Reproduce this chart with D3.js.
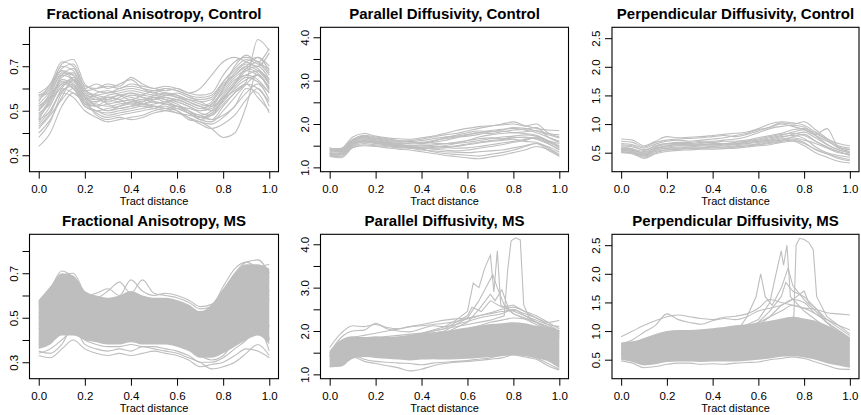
<!DOCTYPE html>
<html>
<head>
<meta charset="utf-8">
<script src="https://d3js.org/d3.v7.min.js"></script>
<style>
  body { margin: 0; background: #fff; }
  svg text { font-family: "Liberation Sans", Arial, Helvetica, sans-serif; fill: #000; }
</style>
</head>
<body>
<div id="chart"></div>
<script>
const width = 861, height = 415;

// sampling positions along the tract
const tGrid = [0, 0.05, 0.1, 0.15, 0.2, 0.25, 0.3, 0.35, 0.4, 0.45, 0.5, 0.55, 0.6, 0.65, 0.7, 0.75, 0.8, 0.85, 0.9, 0.95, 1];
const xTicks = [0, 0.2, 0.4, 0.6, 0.8, 1];

// ---- Fractional anisotropy, control subjects
const faControl = [
  [.50, .58, .66, .64, .55, .54, .56, .55, .57, .56, .55, .56, .54, .52, .50, .52, .60, .66, .70, .68, .62],
  [.55, .60, .70, .68, .58, .57, .58, .59, .60, .59, .58, .57, .58, .56, .55, .56, .63, .68, .72, .74, .70],
  [.45, .52, .62, .60, .52, .50, .51, .52, .53, .52, .53, .54, .52, .50, .47, .48, .55, .62, .66, .64, .58],
  [.58, .62, .72, .70, .61, .60, .61, .60, .62, .61, .60, .59, .60, .58, .57, .58, .66, .72, .74, .72, .66],
  [.38, .45, .58, .62, .54, .53, .52, .53, .54, .55, .54, .53, .51, .49, .46, .45, .50, .56, .62, .66, .60],
  [.34, .40, .52, .58, .53, .50, .49, .50, .51, .52, .51, .50, .49, .47, .45, .44, .47, .52, .58, .62, .55],
  [.48, .55, .64, .62, .53, .52, .55, .54, .55, .54, .56, .55, .53, .50, .48, .50, .56, .62, .68, .70, .64],
  [.52, .57, .67, .66, .57, .56, .53, .51, .52, .53, .55, .58, .57, .54, .52, .50, .54, .60, .64, .66, .60],
  [.46, .50, .60, .65, .56, .48, .46, .47, .46, .47, .49, .50, .51, .49, .48, .46, .52, .58, .62, .60, .54],
  [.56, .60, .68, .66, .60, .62, .60, .62, .64, .60, .58, .60, .59, .57, .54, .55, .62, .66, .70, .74, .68],
  [.42, .48, .55, .60, .52, .50, .48, .49, .50, .51, .52, .52, .50, .47, .44, .42, .44, .48, .55, .60, .52],
  [.50, .56, .65, .67, .58, .55, .54, .56, .58, .57, .56, .54, .55, .53, .51, .53, .58, .64, .66, .68, .64],
  [.53, .59, .69, .71, .60, .56, .55, .57, .56, .55, .57, .58, .56, .55, .54, .52, .60, .70, .75, .72, .78],
  [.44, .50, .58, .56, .50, .47, .45, .46, .47, .48, .50, .51, .50, .46, .45, .42, .38, .40, .52, .68, .62],
  [.57, .58, .62, .64, .59, .60, .62, .61, .65, .62, .60, .61, .60, .58, .60, .66, .72, .74, .72, .70, .76],
  [.47, .54, .63, .61, .55, .54, .56, .55, .53, .54, .56, .55, .54, .52, .49, .48, .53, .58, .63, .82, .77],
  [.51, .55, .60, .58, .54, .52, .53, .54, .55, .53, .54, .53, .52, .50, .47, .49, .55, .59, .62, .56, .50],
  [.40, .46, .56, .64, .56, .52, .50, .51, .52, .53, .52, .51, .49, .48, .47, .46, .48, .52, .60, .58, .49],
  [.54, .62, .68, .64, .56, .55, .57, .58, .59, .58, .57, .56, .55, .53, .51, .53, .59, .65, .68, .66, .61],
  [.49, .53, .61, .63, .57, .52, .50, .52, .54, .53, .52, .51, .52, .51, .50, .51, .57, .63, .69, .72, .67],
  [.46, .55, .66, .69, .59, .57, .56, .57, .58, .56, .55, .57, .56, .54, .52, .54, .61, .67, .71, .69, .63],
  [.52, .56, .63, .60, .55, .58, .59, .57, .55, .57, .59, .58, .57, .55, .53, .52, .56, .61, .65, .63, .58],
  [.43, .49, .59, .61, .54, .49, .47, .48, .49, .50, .51, .53, .52, .49, .46, .48, .55, .62, .69, .67, .59],
  [.57, .61, .71, .73, .62, .59, .58, .60, .61, .60, .59, .60, .59, .57, .56, .57, .63, .69, .73, .71, .69]
];

// ---- Fractional anisotropy, MS subjects (dense core + visible edge curves)
const faMsHigh = [.58, .64, .70, .69, .62, .60, .59, .60, .62, .60, .59, .59, .58, .56, .53, .56, .63, .70, .74, .74, .72];
const faMsLow  = [.36, .38, .42, .42, .40, .39, .38, .38, .39, .38, .38, .38, .37, .35, .32, .32, .34, .37, .40, .42, .38];
const faMs = [
  [.33, .32, .36, .40, .36, .34, .33, .34, .33, .34, .35, .34, .33, .31, .28, .29, .30, .33, .36, .35, .32],
  [.35, .34, .38, .46, .38, .36, .35, .36, .35, .37, .36, .35, .34, .32, .30, .27, .28, .30, .34, .38, .33],
  [.55, .60, .66, .64, .60, .61, .63, .60, .67, .62, .60, .61, .60, .58, .55, .56, .62, .70, .75, .76, .70],
  [.57, .63, .71, .68, .60, .59, .62, .66, .61, .67, .61, .60, .59, .57, .54, .55, .64, .72, .75, .73, .74],
  [.40, .44, .50, .55, .45, .40, .39, .40, .41, .40, .41, .42, .40, .37, .33, .31, .33, .40, .48, .55, .46],
  [.50, .56, .63, .60, .52, .50, .49, .50, .52, .51, .50, .49, .50, .48, .45, .44, .48, .57, .64, .66, .60],
  [.45, .50, .58, .62, .55, .52, .51, .53, .54, .53, .52, .51, .50, .47, .42, .40, .44, .52, .60, .64, .58],
  [.38, .42, .47, .50, .44, .42, .41, .42, .43, .42, .43, .42, .41, .38, .35, .35, .38, .45, .52, .58, .40],
  [.52, .58, .68, .66, .58, .56, .55, .57, .58, .57, .56, .56, .55, .53, .50, .52, .58, .66, .70, .70, .66],
  [.34, .36, .40, .44, .40, .38, .37, .37, .38, .37, .37, .36, .35, .33, .30, .30, .32, .36, .40, .46, .35],
  [.56, .62, .69, .70, .61, .58, .57, .58, .60, .59, .58, .58, .57, .55, .52, .54, .62, .68, .72, .72, .68],
  [.47, .54, .61, .58, .50, .48, .47, .48, .50, .49, .48, .47, .48, .46, .43, .43, .47, .55, .62, .68, .62]
];

// ---- Parallel diffusivity, control subjects
const pdControl = [
  [1.30, 1.32, 1.55, 1.62, 1.58, 1.55, 1.50, 1.48, 1.46, 1.44, 1.45, 1.48, 1.52, 1.56, 1.60, 1.62, 1.65, 1.60, 1.58, 1.45, 1.30],
  [1.40, 1.42, 1.65, 1.72, 1.68, 1.64, 1.60, 1.58, 1.56, 1.58, 1.62, 1.68, 1.75, 1.80, 1.85, 1.88, 1.90, 1.86, 1.80, 1.70, 1.60],
  [1.25, 1.22, 1.45, 1.52, 1.50, 1.48, 1.45, 1.44, 1.40, 1.38, 1.36, 1.35, 1.34, 1.36, 1.38, 1.40, 1.45, 1.50, 1.55, 1.40, 1.25],
  [1.35, 1.38, 1.60, 1.68, 1.62, 1.58, 1.55, 1.54, 1.55, 1.60, 1.68, 1.74, 1.80, 1.84, 1.82, 1.86, 1.92, 1.90, 1.84, 1.75, 1.68],
  [1.45, 1.40, 1.62, 1.70, 1.66, 1.62, 1.60, 1.62, 1.65, 1.70, 1.75, 1.78, 1.84, 1.90, 1.95, 2.00, 2.05, 1.96, 1.90, 1.86, 1.85],
  [1.28, 1.30, 1.50, 1.58, 1.55, 1.52, 1.50, 1.48, 1.45, 1.42, 1.40, 1.38, 1.40, 1.44, 1.48, 1.52, 1.58, 1.62, 1.70, 1.55, 1.40],
  [1.32, 1.35, 1.56, 1.64, 1.60, 1.56, 1.54, 1.56, 1.58, 1.56, 1.55, 1.56, 1.58, 1.62, 1.66, 1.70, 1.72, 1.75, 1.72, 1.62, 1.50],
  [1.38, 1.40, 1.58, 1.60, 1.56, 1.52, 1.48, 1.45, 1.42, 1.36, 1.32, 1.30, 1.28, 1.26, 1.30, 1.34, 1.40, 1.48, 1.55, 1.48, 1.35],
  [1.30, 1.28, 1.48, 1.55, 1.52, 1.50, 1.47, 1.45, 1.44, 1.46, 1.50, 1.55, 1.62, 1.70, 1.75, 1.78, 1.80, 1.78, 1.74, 1.62, 1.55],
  [1.42, 1.44, 1.70, 1.78, 1.72, 1.68, 1.66, 1.65, 1.68, 1.72, 1.78, 1.85, 1.90, 1.94, 1.96, 1.98, 2.00, 1.95, 2.00, 1.80, 1.70],
  [1.26, 1.25, 1.46, 1.50, 1.48, 1.45, 1.42, 1.40, 1.36, 1.32, 1.28, 1.25, 1.22, 1.20, 1.24, 1.28, 1.34, 1.40, 1.48, 1.42, 1.28],
  [1.36, 1.36, 1.58, 1.66, 1.60, 1.57, 1.53, 1.50, 1.50, 1.52, 1.54, 1.58, 1.62, 1.66, 1.68, 1.66, 1.70, 1.68, 1.66, 1.58, 1.48],
  [1.33, 1.30, 1.52, 1.60, 1.56, 1.53, 1.48, 1.46, 1.47, 1.48, 1.46, 1.44, 1.45, 1.48, 1.52, 1.56, 1.60, 1.64, 1.68, 1.60, 1.45],
  [1.40, 1.38, 1.62, 1.70, 1.64, 1.60, 1.58, 1.60, 1.62, 1.66, 1.70, 1.72, 1.76, 1.80, 1.78, 1.82, 1.86, 1.88, 1.92, 1.70, 1.58],
  [1.29, 1.32, 1.54, 1.60, 1.57, 1.54, 1.52, 1.50, 1.52, 1.50, 1.48, 1.50, 1.54, 1.58, 1.62, 1.64, 1.68, 1.70, 1.65, 1.55, 1.42],
  [1.44, 1.42, 1.64, 1.74, 1.70, 1.66, 1.62, 1.60, 1.58, 1.62, 1.66, 1.70, 1.72, 1.76, 1.82, 1.84, 1.80, 1.82, 1.85, 1.78, 1.75]
];

// ---- Parallel diffusivity, MS subjects
const pdMsHigh = [1.55, 1.80, 1.88, 1.86, 1.88, 1.86, 1.88, 1.90, 1.94, 1.97, 2.00, 2.04, 2.08, 2.12, 2.16, 2.18, 2.20, 2.18, 2.12, 2.08, 2.02];
const pdMsLow  = [1.16, 1.18, 1.36, 1.40, 1.38, 1.36, 1.34, 1.32, 1.34, 1.35, 1.34, 1.35, 1.36, 1.38, 1.40, 1.42, 1.44, 1.42, 1.38, 1.30, 1.14];
const pdMs = [
  [1.62, 1.95, 2.12, 2.10, 2.15, 2.08, 2.05, 2.10, 2.15, 2.20, 2.25, 2.28, 2.30, 2.35, 2.40, 2.45, 2.48, 2.40, 2.30, 2.20, 2.25],
  [1.50, 1.85, 2.00, 2.02, 2.18, 2.05, 2.00, 1.98, 2.05, 2.12, 2.10, 2.15, 2.22, 2.30, 2.35, 2.40, 2.50, 2.35, 2.25, 2.15, 2.10],
  [1.18, 1.20, 1.40, 1.30, 1.25, 1.20, 1.15, 1.08, 1.12, 1.20, 1.25, 1.28, 1.30, 1.32, 1.35, 1.38, 1.45, 1.40, 1.35, 1.20, 1.10],
  [1.20, 1.22, 1.45, 1.35, 1.30, 1.28, 1.26, 1.25, 1.22, 1.26, 1.28, 1.30, 1.32, 1.35, 1.38, 1.45, 1.50, 1.45, 1.38, 1.25, 1.12],
  [1.40, 1.70, 1.80, 1.78, 1.82, 1.80, 1.78, 1.82, 1.86, 1.90, 1.95, 2.00, 2.05, 2.12, 2.20, 2.25, 2.30, 2.28, 2.20, 2.10, 2.00],
  [1.30, 1.45, 1.55, 1.52, 1.50, 1.48, 1.46, 1.44, 1.42, 1.45, 1.48, 1.46, 1.45, 1.50, 1.55, 1.60, 1.62, 1.58, 1.50, 1.40, 1.30],
  [1.45, 1.75, 1.85, 1.90, 1.95, 2.00, 2.05, 2.10, 2.12, 2.15, 2.18, 2.22, 2.28, 2.35, 2.42, 2.50, 2.55, 2.45, 2.35, 2.20, 2.05]
];
// MS subjects with sharp peaks, as [tract distance, value]
const pdMsPeaks = [
  [[0, 1.50], [0.1, 1.80], [0.2, 1.85], [0.3, 1.90], [0.4, 1.95], [0.5, 2.05], [0.6, 2.15], [0.7, 2.25], [0.76, 2.35], [0.775, 3.40], [0.79, 4.08], [0.81, 4.15], [0.83, 4.10], [0.845, 2.60], [0.87, 2.30], [0.9, 2.20], [1, 2.00]],
  [[0, 1.45], [0.1, 1.75], [0.2, 1.80], [0.3, 1.85], [0.4, 1.95], [0.5, 2.10], [0.55, 2.25], [0.6, 2.45], [0.625, 3.10], [0.65, 3.00], [0.675, 3.45], [0.7, 3.75], [0.715, 2.90], [0.73, 3.85], [0.745, 2.60], [0.8, 2.40], [0.9, 2.20], [1, 1.95]],
  [[0, 1.40], [0.1, 1.70], [0.3, 1.80], [0.5, 2.00], [0.6, 2.30], [0.65, 2.70], [0.68, 3.00], [0.71, 3.30], [0.73, 3.00], [0.76, 2.60], [0.8, 2.40], [0.9, 2.15], [1, 1.90]],
  [[0, 1.35], [0.1, 1.65], [0.3, 1.75], [0.5, 1.95], [0.6, 2.20], [0.65, 2.50], [0.7, 2.85], [0.72, 2.70], [0.75, 2.95], [0.78, 2.50], [0.85, 2.35], [0.9, 2.20], [1, 1.85]],
  [[0, 1.42], [0.1, 1.72], [0.3, 1.82], [0.5, 2.05], [0.55, 2.20], [0.6, 2.35], [0.62, 2.55], [0.66, 2.45], [0.7, 2.70], [0.75, 2.55], [0.8, 2.60], [0.85, 2.45], [0.9, 2.30], [1, 2.00]]
];

// ---- Perpendicular diffusivity, control subjects
const rdControl = [
  [.55, .52, .45, .55, .58, .60, .60, .62, .62, .63, .64, .66, .70, .74, .78, .80, .75, .60, .50, .45, .42],
  [.62, .60, .55, .62, .66, .68, .68, .70, .70, .72, .74, .78, .85, .92, .96, .98, .95, .80, .65, .55, .50],
  [.50, .48, .40, .48, .52, .54, .55, .56, .56, .57, .58, .60, .62, .64, .68, .70, .62, .50, .42, .35, .32],
  [.70, .68, .60, .68, .72, .74, .75, .76, .78, .80, .78, .82, .88, .95, 1.02, 1.00, 1.04, .90, .75, .62, .58],
  [.58, .55, .50, .60, .64, .64, .65, .66, .68, .66, .68, .70, .72, .76, .80, .86, .90, .82, .92, .60, .55],
  [.52, .50, .42, .50, .55, .56, .57, .58, .60, .58, .60, .62, .66, .70, .72, .74, .68, .55, .48, .40, .36],
  [.66, .64, .58, .65, .70, .72, .70, .72, .74, .76, .80, .84, .90, .94, 1.00, .96, .90, .80, .70, .60, .55],
  [.60, .57, .48, .56, .62, .64, .63, .64, .65, .64, .65, .66, .68, .70, .74, .76, .72, .66, .58, .50, .48],
  [.54, .52, .46, .54, .58, .58, .60, .60, .61, .60, .62, .64, .64, .66, .70, .78, .82, .70, .60, .52, .45],
  [.74, .72, .62, .70, .78, .76, .77, .78, .80, .82, .84, .86, .92, 1.00, 1.04, 1.02, .98, .86, .74, .66, .62],
  [.56, .54, .48, .58, .60, .62, .62, .64, .64, .66, .66, .68, .70, .72, .76, .82, .86, .76, .64, .55, .50],
  [.64, .62, .54, .62, .66, .66, .66, .68, .68, .70, .70, .72, .76, .80, .84, .90, .92, .84, .72, .58, .52],
  [.58, .56, .52, .58, .62, .64, .64, .64, .66, .66, .66, .70, .74, .78, .82, .84, .80, .70, .60, .52, .46],
  [.51, .50, .44, .52, .55, .57, .58, .58, .58, .60, .60, .62, .64, .68, .70, .72, .66, .56, .48, .42, .38]
];

// ---- Perpendicular diffusivity, MS subjects
const rdMsHigh = [0.80, 0.82, 0.88, 0.95, 1.00, 1.02, 1.02, 1.03, 1.05, 1.07, 1.10, 1.12, 1.15, 1.18, 1.22, 1.25, 1.22, 1.18, 1.10, 1.00, 0.88];
const rdMsLow  = [0.50, 0.46, 0.40, 0.42, 0.46, 0.47, 0.47, 0.46, 0.47, 0.47, 0.47, 0.48, 0.50, 0.52, 0.55, 0.56, 0.54, 0.50, 0.44, 0.40, 0.36];
const rdMs = [
  [0.90, 1.00, 1.10, 1.18, 1.25, 1.28, 1.25, 1.22, 1.20, 1.24, 1.26, 1.30, 1.40, 1.55, 1.50, 1.45, 1.40, 1.38, 1.32, 1.30, 1.28],
  [0.78, 0.85, 0.98, 1.10, 1.30, 1.20, 1.15, 1.12, 1.18, 1.22, 1.20, 1.25, 1.35, 1.40, 1.45, 1.55, 1.50, 1.30, 1.20, 1.10, 1.02],
  [0.48, 0.44, 0.36, 0.38, 0.42, 0.44, 0.44, 0.42, 0.43, 0.42, 0.44, 0.45, 0.46, 0.50, 0.52, 0.55, 0.52, 0.46, 0.40, 0.34, 0.33],
  [0.60, 0.58, 0.60, 0.70, 0.80, 0.85, 0.88, 0.90, 0.95, 0.98, 1.02, 1.08, 1.15, 1.25, 1.35, 1.45, 1.40, 1.30, 1.15, 0.95, 0.85],
  [0.52, 0.50, 0.44, 0.48, 0.52, 0.54, 0.55, 0.55, 0.56, 0.56, 0.58, 0.60, 0.62, 0.65, 0.62, 0.60, 0.58, 0.54, 0.48, 0.42, 0.38]
];
const rdMsPeaks = [
  [[0, 0.65], [0.1, 0.62], [0.2, 0.75], [0.3, 0.80], [0.4, 0.86], [0.5, 0.92], [0.6, 1.02], [0.7, 1.12], [0.755, 1.25], [0.765, 2.50], [0.78, 2.62], [0.8, 2.60], [0.82, 2.55], [0.84, 2.42], [0.855, 1.60], [0.9, 1.25], [1, 0.95]],
  [[0, 0.70], [0.1, 0.65], [0.2, 0.80], [0.3, 0.86], [0.4, 0.92], [0.5, 1.02], [0.6, 1.20], [0.65, 1.50], [0.68, 2.05], [0.70, 2.40], [0.71, 2.15], [0.725, 2.50], [0.74, 1.60], [0.8, 1.35], [0.9, 1.05], [1, 0.82]],
  [[0, 0.62], [0.1, 0.58], [0.2, 0.72], [0.3, 0.78], [0.4, 0.84], [0.5, 0.95], [0.55, 1.25], [0.59, 1.60], [0.61, 2.00], [0.63, 1.60], [0.66, 1.45], [0.7, 1.75], [0.73, 2.10], [0.75, 1.80], [0.8, 1.55], [0.9, 1.15], [1, 0.88]],
  [[0, 0.66], [0.1, 0.62], [0.2, 0.78], [0.3, 0.82], [0.4, 0.88], [0.5, 0.98], [0.6, 1.15], [0.65, 1.35], [0.7, 1.60], [0.72, 1.85], [0.75, 1.70], [0.8, 1.60], [0.85, 1.40], [0.9, 1.20], [1, 0.92]],
  [[0, 0.60], [0.1, 0.56], [0.2, 0.70], [0.3, 0.76], [0.4, 0.82], [0.5, 0.92], [0.6, 1.10], [0.65, 1.25], [0.7, 1.45], [0.75, 1.55], [0.8, 1.70], [0.82, 1.50], [0.85, 1.40], [0.9, 1.15], [1, 0.85]]
];

// axis settings per measure
const faTicks = [0.3, 0.4, 0.5, 0.6, 0.7, 0.8], faLabels = [0.3, 0.5, 0.7];
const pdTicks = [1, 1.5, 2, 2.5, 3, 3.5, 4], pdLabels = [1, 2, 3, 4];
const rdTicks = [0.5, 1, 1.5, 2, 2.5], rdLabels = [0.5, 1, 1.5, 2, 2.5];

const colX = [[29.5, 278.5], [320.5, 568.5], [612, 859]];
const rowY = [[27.3, 171.7], [234.3, 378.7]];
const lineColor = "#bebebe";

const panels = [
  {title: "Fractional Anisotropy, Control", col: 0, row: 0, ydom: [0.226, 0.875], ticks: faTicks, labels: faLabels, curves: faControl},
  {title: "Parallel Diffusivity, Control", col: 1, row: 0, ydom: [0.90, 4.23], ticks: pdTicks, labels: pdLabels, curves: pdControl},
  {title: "Perpendicular Diffusivity, Control", col: 2, row: 0, ydom: [0.168, 2.69], ticks: rdTicks, labels: rdLabels, curves: rdControl},
  {title: "Fractional Anisotropy, MS", col: 0, row: 1, ydom: [0.226, 0.875], ticks: faTicks, labels: faLabels, curves: faMs, low: faMsLow, high: faMsHigh},
  {title: "Parallel Diffusivity, MS", col: 1, row: 1, ydom: [0.90, 4.23], ticks: pdTicks, labels: pdLabels, curves: pdMs, low: pdMsLow, high: pdMsHigh, peaks: pdMsPeaks},
  {title: "Perpendicular Diffusivity, MS", col: 2, row: 1, ydom: [0.168, 2.69], ticks: rdTicks, labels: rdLabels, curves: rdMs, low: rdMsLow, high: rdMsHigh, peaks: rdMsPeaks}
];

const svg = d3.select("#chart").append("svg")
    .attr("width", width)
    .attr("height", height)
    .style("background", "#fff");

const fmt = d3.format(".1f");

panels.forEach(p => {
  const [x0, x1] = colX[p.col];
  const [y0, y1] = rowY[p.row];
  const x = d3.scaleLinear().domain([-0.04, 1.04]).range([x0, x1]);
  const y = d3.scaleLinear().domain(p.ydom).range([y1, y0]);
  const g = svg.append("g");

  const line = d3.line()
      .x((d, i) => x(tGrid[i]))
      .y(d => y(d))
      .curve(d3.curveMonotoneX);

  // dense core of many subjects
  if (p.low) {
    const area = d3.area()
        .x((d, i) => x(tGrid[i]))
        .y0((d, i) => y(p.low[i]))
        .y1((d, i) => y(p.high[i]))
        .curve(d3.curveMonotoneX);
    g.append("path")
        .datum(p.low)
        .attr("d", area)
        .attr("fill", lineColor);
  }

  g.selectAll(".curve")
    .data(p.curves)
    .join("path")
      .attr("class", "curve")
      .attr("d", line)
      .attr("fill", "none")
      .attr("stroke", lineColor)
      .attr("stroke-width", 1.1);

  if (p.peaks) {
    const pline = d3.line().x(d => x(d[0])).y(d => y(d[1]));
    g.selectAll(".peak")
      .data(p.peaks)
      .join("path")
        .attr("class", "peak")
        .attr("d", pline)
        .attr("fill", "none")
        .attr("stroke", lineColor)
        .attr("stroke-width", 1.1);
  }

  // box
  g.append("rect")
      .attr("x", x0).attr("y", y0)
      .attr("width", x1 - x0).attr("height", y1 - y0)
      .attr("fill", "none")
      .attr("stroke", "#000")
      .attr("stroke-width", 1.1);

  // x axis
  const xa = g.append("g")
      .attr("transform", `translate(0,${y1})`)
      .call(d3.axisBottom(x).tickValues(xTicks).tickFormat(fmt).tickSize(7).tickSizeOuter(0));
  xa.select(".domain").remove();
  xa.selectAll("line").attr("stroke", "#000");
  xa.selectAll("text")
      .attr("y", 21.5).attr("dy", null)
      .style("font-size", "11.5px");

  // y axis with rotated labels
  const ya = g.append("g")
      .attr("transform", `translate(${x0},0)`)
      .call(d3.axisLeft(y).tickValues(p.ticks)
        .tickFormat(v => p.labels.includes(v) ? fmt(v) : "")
        .tickSize(7).tickSizeOuter(0));
  ya.select(".domain").remove();
  ya.selectAll("line").attr("stroke", "#000");
  ya.selectAll("text")
      .attr("x", null).attr("dy", null)
      .attr("text-anchor", "middle")
      .attr("transform", "translate(-12,0) rotate(-90)")
      .style("font-size", "11.5px");

  // titles
  g.append("text")
      .attr("x", (x0 + x1) / 2)
      .attr("y", y0 - 8)
      .attr("text-anchor", "middle")
      .style("font-size", "15px")
      .style("font-weight", "bold")
      .text(p.title);

  g.append("text")
      .attr("x", (x0 + x1) / 2)
      .attr("y", y1 + 33.7)
      .attr("text-anchor", "middle")
      .style("font-size", "11px")
      .text("Tract distance");
});
</script>
</body>
</html>
